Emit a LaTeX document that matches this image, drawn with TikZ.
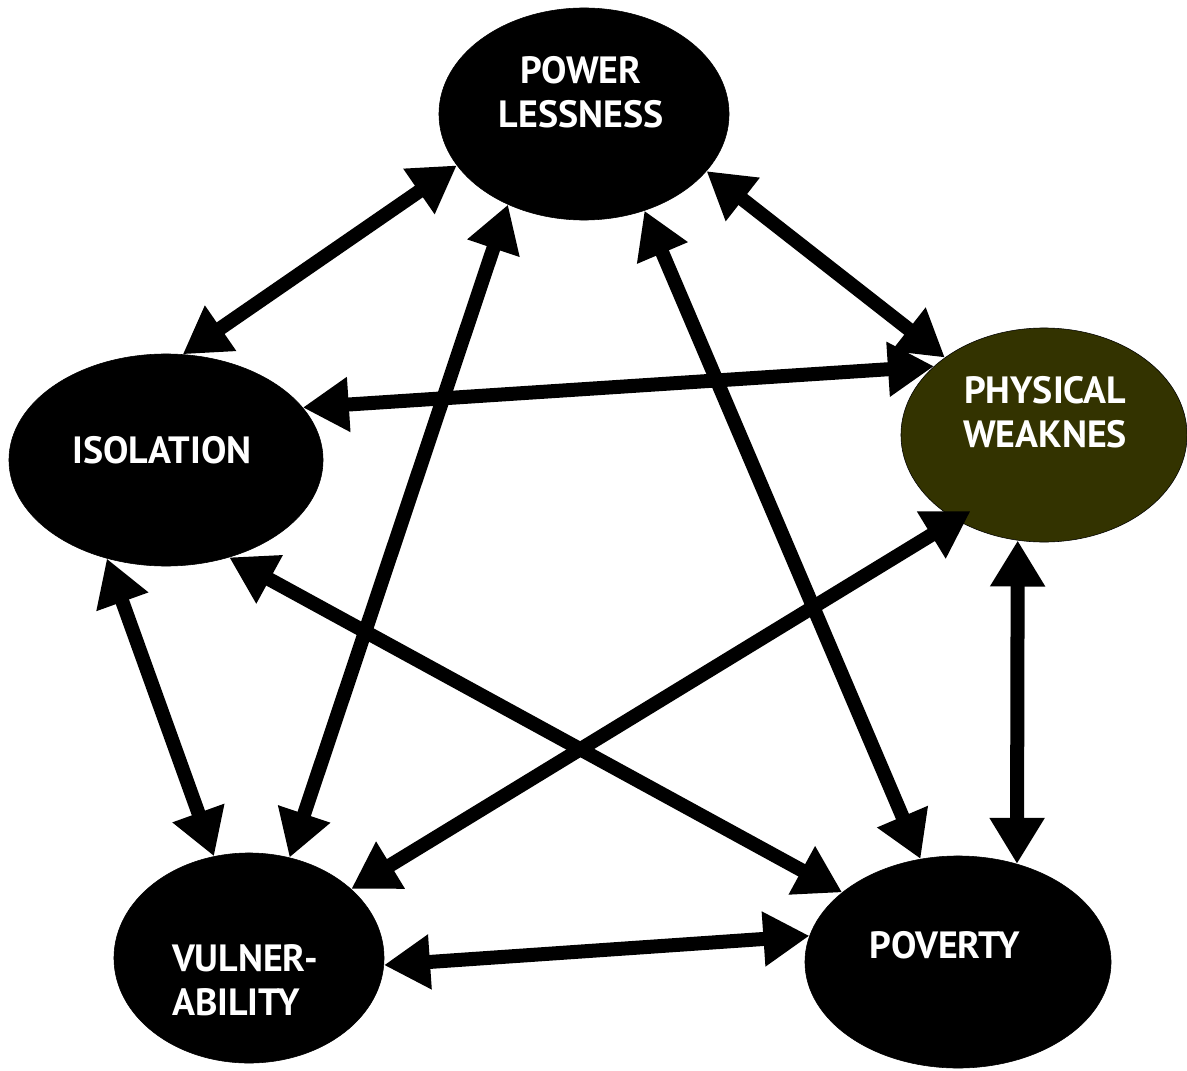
\documentclass[tikz,border=0pt]{standalone}
\usepackage{fontspec}
\setmainfont{PT Sans}
\usetikzlibrary{arrows.meta, shapes.geometric}
\definecolor{DarkOlive}{RGB}{51, 51, 0}

\begin{document}
\begin{tikzpicture}[x=0.025cm, y=-0.025cm,
    blob/.style={ellipse, fill=black, draw=black, inner sep=0pt},
    tag/.style={text=white, font=\bfseries\fontsize{27}{31}\selectfont, align=center},
    link/.style={line width=0.35cm, {Triangle[length=1.15cm, width=1.3cm]}-{Triangle[length=1.15cm, width=1.3cm]}}]
    \useasboundingbox (0,0) rectangle (1187,1070);

    % The five causes
    \node[blob, minimum width=7.25cm, minimum height=5.3cm] (pow) at (584,114) {};
    \node[blob, minimum width=7.85cm, minimum height=5.3cm] (iso) at (166,460) {};
    \node[blob, fill=DarkOlive, thin, minimum width=7.15cm, minimum height=5.35cm] (phy) at (1044,435) {};
    \node[blob, minimum width=6.75cm, minimum height=5.25cm] (vul) at (249,958) {};
    \node[blob, minimum width=7.65cm, minimum height=5.3cm] (pov) at (958,962) {};

    % Labels
    \node[tag] (powtxt) at ([shift={(-3,-22)}]pow.center) {POWER\\LESSNESS};
    \node[tag] (isotxt) at ([shift={(-4,-10)}]iso.center) {ISOLATION};
    \node[tag] (phytxt) at ([shift={(1,-23)}]phy.center) {PHYSICAL\\WEAKNES};
    \node[tag, align=left] (vultxt) at ([shift={(-4,22)}]vul.center) {VULNER-\\ABILITY};
    \node[tag] (povtxt) at ([shift={(-13,-17)}]pov.center) {POVERTY};

    % Links, each one both ways
    \foreach \a/\b/\ext in {pow.202/iso.81/0, pow.230/vul.68/0, pow.302/pov.110/0, pow.335/phy.142/0,
                       iso.21/phy.148/0, iso.303/pov.149/0, iso.239/vul.109/0,
                       phy.224/vul.34.5/0.42, phy.256/pov.59/0, vul.357/pov.170/0} {
        \draw[link, shorten <=-\ext cm] (\a) -- (\b);
    }
\end{tikzpicture}
\end{document}
